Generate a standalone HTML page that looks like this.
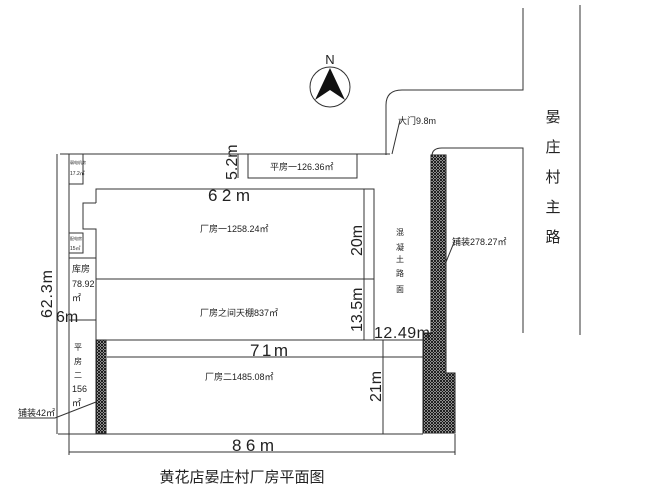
<!DOCTYPE html>
<html><head><meta charset="utf-8"><style>
html,body{margin:0;padding:0;background:#fff;}
svg{display:block;}
text{font-family:"Liberation Sans","Noto Sans CJK SC",sans-serif;fill:#222;}
</style></head><body>
<svg width="650" height="490" viewBox="0 0 650 490" xmlns="http://www.w3.org/2000/svg">
<defs>
<pattern id="h" width="3" height="3" patternUnits="userSpaceOnUse">
<rect width="3" height="3" fill="#fff"/>
<path d="M0 0L3 3M3 0L0 3" stroke="#111" stroke-width="1"/>
</pattern>
</defs>
<g stroke="#333" stroke-width="1" fill="none">
<path d="M523 8V90H402Q386 90 386 105V155"/>
<path d="M580 5V335"/>
<path d="M523 333V148H442Q432 148 432 156"/>
<path d="M60 154H390"/>
<path d="M69 154V434"/>
<path d="M57 154V434"/>
<path d="M58 434H423"/>
<path d="M69 434V455M455 434V455M69 452H455"/>
<path d="M69 184H83V154"/>
<path d="M69 233H83V253H69"/>
<path d="M69 258H96"/>
<path d="M69 320H96"/>
<path d="M96 203V189H374V340"/>
<path d="M96 203H83V229H96V340"/>
<path d="M364 189V340"/>
<path d="M96 279H374"/>
<path d="M96 340H423"/>
<path d="M248 154V178H357V154"/>
<path d="M238 154V178"/>
<path d="M107 357H423"/>
<path d="M383 340V434"/>
<path d="M392 154L400 120"/>
<path d="M446 262L455 240"/>
<path d="M18 418H55L96 402"/>
</g>
<path d="M431 155H446V373H455V433H423V333H431Z" fill="url(#h)" stroke="#222"/>
<rect x="96" y="340" width="10" height="93" fill="url(#h)" stroke="#222"/>
<circle cx="330" cy="87" r="20" fill="none" stroke="#333"/>
<path d="M330 68L315 100L330 90L345 100Z" fill="#111"/>
<text x="330" y="64" font-size="13" text-anchor="middle">N</text>
<text x="398" y="124" font-size="9">大门9.8m</text>
<text x="452" y="245" font-size="9">铺装278.27㎡</text>
<text x="18" y="416" font-size="9">铺装42㎡</text>
<text x="270" y="170" font-size="9">平房一126.36㎡</text>
<text x="200" y="232" font-size="9">厂房一1258.24㎡</text>
<text x="200" y="316" font-size="9">厂房之间天棚837㎡</text>
<text x="205" y="380" font-size="9">厂房二1485.08㎡</text>
<text x="70" y="164" font-size="4">弱电机房</text>
<text x="70" y="175" font-size="5">17.2㎡</text>
<text x="70" y="240" font-size="4">配电房</text>
<text x="70" y="250" font-size="5">15㎡</text>
<text x="72" y="272" font-size="9">库房</text>
<text x="72" y="287" font-size="9">78.92</text>
<text x="72" y="301" font-size="9">㎡</text>
<text x="74" y="350" font-size="8">平</text>
<text x="74" y="364" font-size="8">房</text>
<text x="74" y="378" font-size="8">二</text>
<text x="72" y="392" font-size="9">156</text>
<text x="72" y="406" font-size="9">㎡</text>
<g font-size="17" style="fill:#555">
<text x="208" y="201" textLength="42">62m</text>
<text x="250" y="356" textLength="38">71m</text>
<text x="232" y="451" textLength="42">86m</text>
<text x="374" y="338" font-size="16" textLength="56">12.49m</text>
<text x="56" y="322" font-size="16">6m</text>
<text transform="translate(52,318) rotate(-90)" font-size="16" textLength="48">62.3m</text>
<text transform="translate(237,180) rotate(-90)" font-size="16">5.2m</text>
<text transform="translate(362,256) rotate(-90)" font-size="16">20m</text>
<text transform="translate(362,332) rotate(-90)" font-size="16">13.5m</text>
<text transform="translate(381,402) rotate(-90)" font-size="16">21m</text>
</g>
<g font-size="8" text-anchor="middle">
<text x="400" y="235">混</text><text x="400" y="250">凝</text><text x="400" y="262">土</text><text x="400" y="276">路</text><text x="400" y="292">面</text>
</g>
<g font-size="15" text-anchor="middle">
<text x="553" y="122">晏</text><text x="553" y="152">庄</text><text x="553" y="182">村</text><text x="553" y="212">主</text><text x="553" y="242">路</text>
</g>
<text x="242" y="482" font-size="15" text-anchor="middle">黄花店晏庄村厂房平面图</text>
</svg>
</body></html>
